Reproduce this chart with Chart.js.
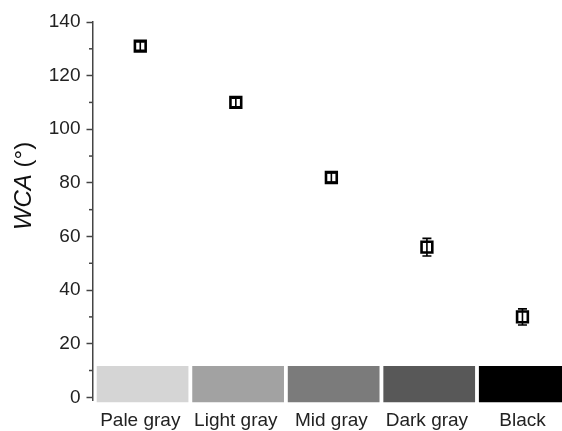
<!DOCTYPE html>
<html><head><meta charset="utf-8">
<script src="https://cdn.jsdelivr.net/npm/chart.js@4.4.0/dist/chart.umd.min.js"></script>
<style>html,body{margin:0;padding:0;overflow:hidden;background:#fff}canvas{display:block}</style>
</head><body>
<canvas id="c" width="562" height="431"></canvas>
<script>
const categories = ['Pale gray', 'Light gray', 'Mid gray', 'Dark gray', 'Black'];
const wca = [131, 110, 82, 56, 30];
const wcaErr = [1.6, 1.6, 1.7, 3.3, 3];
const swatchColors = ['#d5d5d5', '#a2a2a2', '#7b7b7b', '#585858', '#000000'];
const swatchRange = [-1.8, 11.7];
const yTicks = [0, 20, 40, 60, 80, 100, 120, 140];
const yMinorTicks = [10, 30, 50, 70, 90, 110, 130];
const yTitleItalic = 'WCA';
const yTitleRest = ' (°)';

const FAMILY = '"Liberation Sans", Arial, sans-serif';
const X_MIN = -0.5, X_MAX = 4.307, SWATCH_SHIFT = 0.024;

const extras = {
  id: 'extras',
  afterDatasetsDraw(chart) {
    const ctx = chart.ctx;
    const y = chart.scales.y;
    const meta = chart.getDatasetMeta(1);
    ctx.save();
    ctx.strokeStyle = '#000';
    ctx.lineWidth = 1.6;
    meta.data.forEach((el, i) => {
      const top = y.getPixelForValue(wca[i] + wcaErr[i]);
      const bot = y.getPixelForValue(wca[i] - wcaErr[i]);
      ctx.beginPath();
      ctx.moveTo(el.x, top); ctx.lineTo(el.x, bot);
      ctx.moveTo(el.x - 4.5, top); ctx.lineTo(el.x + 4.5, top);
      ctx.moveTo(el.x - 4.5, bot); ctx.lineTo(el.x + 4.5, bot);
      ctx.stroke();
    });
    ctx.restore();
  },
  afterDraw(chart) {
    const ctx = chart.ctx;
    const y = chart.scales.y;
    ctx.save();
    ctx.strokeStyle = '#444';
    ctx.lineWidth = 1.5;
    yMinorTicks.forEach(v => {
      const p = y.getPixelForValue(v);
      ctx.beginPath();
      ctx.moveTo(y.right - 3.5, p); ctx.lineTo(y.right, p);
      ctx.stroke();
    });
    ctx.translate(24, 186);
    ctx.rotate(-Math.PI / 2);
    ctx.fillStyle = '#111';
    ctx.textBaseline = 'middle';
    const fItal = 'italic 24px ' + FAMILY;
    const fNorm = '24px ' + FAMILY;
    ctx.font = fItal; const w1 = ctx.measureText(yTitleItalic).width;
    ctx.font = fNorm; const w2 = ctx.measureText(yTitleRest).width;
    const start = -(w1 + w2) / 2;
    ctx.font = fItal; ctx.textAlign = 'left';
    ctx.fillText(yTitleItalic, start, 0);
    ctx.font = fNorm;
    ctx.fillText(yTitleRest, start + w1, 0);
    ctx.restore();
  }
};

const zeroPad = s => { s.paddingLeft = 0; s.paddingRight = 0; };

new Chart(document.getElementById('c'), {
  type: 'scatter',
  data: {
    datasets: [
      {
        type: 'bar',
        xAxisID: 'xBar',
        yAxisID: 'y',
        data: categories.map((c, i) => ({ x: i, y: swatchRange })),
        backgroundColor: swatchColors,
        borderWidth: 0,
        barPercentage: 0.96,
        categoryPercentage: 1,
        grouped: false,
        clip: false,
        order: 2
      },
      {
        type: 'line',
        xAxisID: 'x',
        yAxisID: 'y',
        data: categories.map((c, i) => ({ x: i, y: wca[i] })),
        showLine: false,
        pointStyle: 'rect',
        pointRadius: 7.6,
        pointHoverRadius: 7.6,
        pointBorderWidth: 2.6,
        pointBorderColor: '#000',
        pointBackgroundColor: '#fff',
        order: 1
      }
    ]
  },
  options: {
    responsive: false,
    animation: false,
    events: [],
    layout: { padding: { top: 22, left: 0, right: 0, bottom: 0 } },
    plugins: { legend: { display: false }, tooltip: { enabled: false } },
    scales: {
      x: {
        type: 'linear',
        offset: false,
        min: X_MIN,
        max: X_MAX,
        afterBuildTicks: s => { s.ticks = categories.map((c, i) => ({ value: i })); },
        grid: { display: false, drawTicks: false, offset: false },
        border: { display: false },
        ticks: {
          font: { size: 19, family: FAMILY }, color: '#222', padding: 9,
          maxRotation: 0, autoSkip: false,
          callback: v => categories[v] ?? ''
        },
        afterFit: s => { s.height = 31; zeroPad(s); }
      },
      xBar: {
        type: 'linear',
        display: false,
        offset: false,
        grid: { offset: false },
        min: X_MIN - SWATCH_SHIFT,
        max: X_MAX - SWATCH_SHIFT,
        afterBuildTicks: s => { s.ticks = categories.map((c, i) => ({ value: i })); },
        afterFit: zeroPad
      },
      y: {
        type: 'linear',
        min: -1,
        max: 140,
        afterBuildTicks: s => { s.ticks = yTicks.map(v => ({ value: v })); },
        afterFit: s => { s.width = 92.5; },
        border: { color: '#444', width: 1.5 },
        grid: { drawOnChartArea: false, drawTicks: true, tickLength: 6, tickColor: '#444', tickWidth: 1.5 },
        ticks: { font: { size: 19, family: FAMILY }, color: '#222', padding: 6 }
      }
    }
  },
  plugins: [extras]
});
</script>
</body></html>
